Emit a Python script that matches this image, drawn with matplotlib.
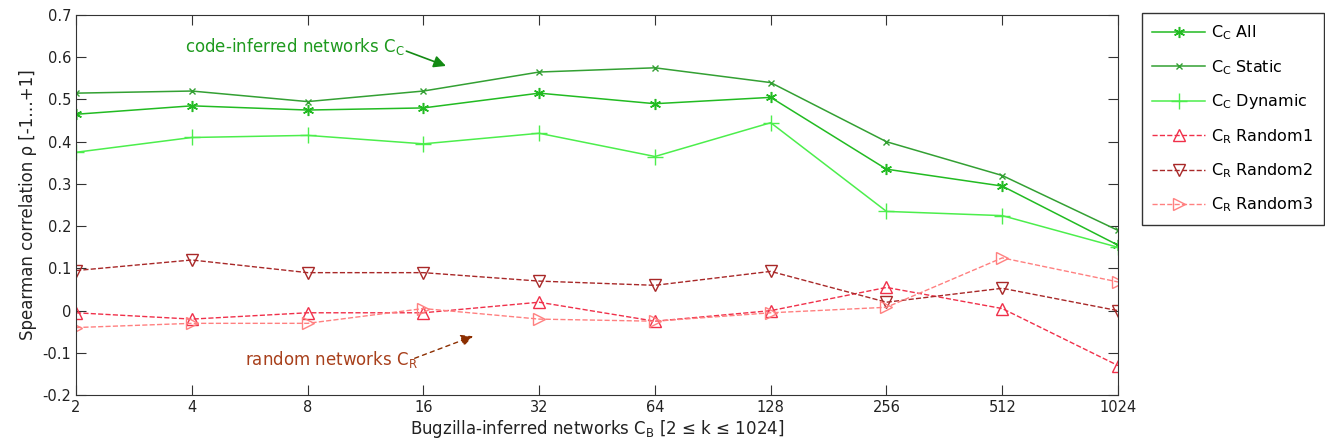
import matplotlib
matplotlib.use("Agg")
import matplotlib.pyplot as plt

plt.rcParams['font.family'] = ['DejaVu Sans']
plt.rcParams['mathtext.fontset'] = 'dejavusans'

# k values for the Bugzilla-inferred networks
k_values = [2, 4, 8, 16, 32, 64, 128, 256, 512, 1024]
k_labels = ['2', '4', '8', '16', '32', '64', '128', '256', '512', '1024']

cc_all = [0.465, 0.485, 0.475, 0.48, 0.515, 0.49, 0.505, 0.335, 0.295, 0.155]
cc_static = [0.515, 0.52, 0.495, 0.52, 0.565, 0.575, 0.54, 0.40, 0.32, 0.19]
cc_dynamic = [0.375, 0.41, 0.415, 0.395, 0.42, 0.365, 0.445, 0.235, 0.225, 0.15]
cr_random1 = [-0.005, -0.02, -0.005, -0.005, 0.02, -0.025, 0.0, 0.055, 0.005, -0.13]
cr_random2 = [0.095, 0.12, 0.09, 0.09, 0.07, 0.06, 0.093, 0.02, 0.053, 0.0]
cr_random3 = [-0.04, -0.03, -0.03, 0.005, -0.02, -0.025, -0.005, 0.008, 0.125, 0.068]

fig = plt.figure(figsize=(13.25, 4.48), dpi=100)
ax = fig.add_axes([0.0574, 0.118, 0.7864, 0.8485])

ax.plot(k_values, cc_all, color='#22bb22', marker=(6, 2, 0), markersize=8, mew=1.1,
        lw=1.1, label=r'C$_\mathrm{C}$ All')
ax.plot(k_values, cc_static, color='#33a033', marker='x', markersize=5, lw=1.1,
        label=r'C$_\mathrm{C}$ Static')
ax.plot(k_values, cc_dynamic, color='#4cee4c', marker='+', markersize=12, lw=1.1,
        label=r'C$_\mathrm{C}$ Dynamic')
ax.plot(k_values, cr_random1, color='#f0304a', ls='--', marker='^', markersize=9,
        mfc='none', lw=1.0, label=r'C$_\mathrm{R}$ Random1')
ax.plot(k_values, cr_random2, color='#a82828', ls='--', marker='v', markersize=9,
        mfc='none', lw=1.0, label=r'C$_\mathrm{R}$ Random2')
ax.plot(k_values, cr_random3, color='#ff8080', ls='--', marker='>', markersize=9,
        mfc='none', lw=1.0, label=r'C$_\mathrm{R}$ Random3')

ax.set_xscale('log', base=2)
ax.set_xlim(2, 1024)
ax.set_xticks(k_values)
ax.set_xticklabels(k_labels)
ax.minorticks_off()
ax.set_ylim(-0.2, 0.7)
ax.set_yticks([-0.2, -0.1, 0, 0.1, 0.2, 0.3, 0.4, 0.5, 0.6, 0.7])
ax.set_yticklabels(['-0.2', '-0.1', '0', '0.1', '0.2', '0.3', '0.4', '0.5', '0.6', '0.7'])
ax.tick_params(direction='in', length=7, top=True, right=True, labelsize=10.5,
               color='#333333', labelcolor='#222222')
for s in ax.spines.values():
    s.set_color('#333333')

ax.set_xlabel(r'Bugzilla-inferred networks C$_\mathrm{B}$ [2 ≤ k ≤ 1024]', fontsize=12,
              color='#222222', labelpad=2)
ax.set_ylabel('Spearman correlation ρ [-1…+1]', fontsize=12, color='#222222', labelpad=4)

# annotations
ax.text(0.105, 0.918, r'code-inferred networks C$_\mathrm{C}$', transform=ax.transAxes,
        color='#1f9a1f', fontsize=12, va='center')
ax.annotate('', xy=(0.355, 0.866), xytext=(0.317, 0.905), xycoords='axes fraction',
            arrowprops=dict(arrowstyle='-|>', color='#138a13', lw=1.2, mutation_scale=18,
                            shrinkA=0, shrinkB=0))
ax.text(0.162, 0.095, r'random networks C$_\mathrm{R}$', transform=ax.transAxes,
        color='#a8401c', fontsize=12, va='center')
ax.annotate('', xy=(0.381, 0.155), xytext=(0.325, 0.097), xycoords='axes fraction',
            arrowprops=dict(arrowstyle='-|>', color='#8c2e00', lw=1.0,
                            linestyle=(0, (3, 3)), mutation_scale=18,
                            shrinkA=0, shrinkB=0))

leg = ax.legend(loc='upper left', bbox_to_anchor=(1.023, 1.005), borderaxespad=0,
                fontsize=11.5, handlelength=3.3, handletextpad=0.4, borderpad=0.65,
                labelspacing=0.98, fancybox=False, edgecolor='#333333', framealpha=1)
leg.get_frame().set_linewidth(1.0)

fig.savefig('out.png', dpi=100)
